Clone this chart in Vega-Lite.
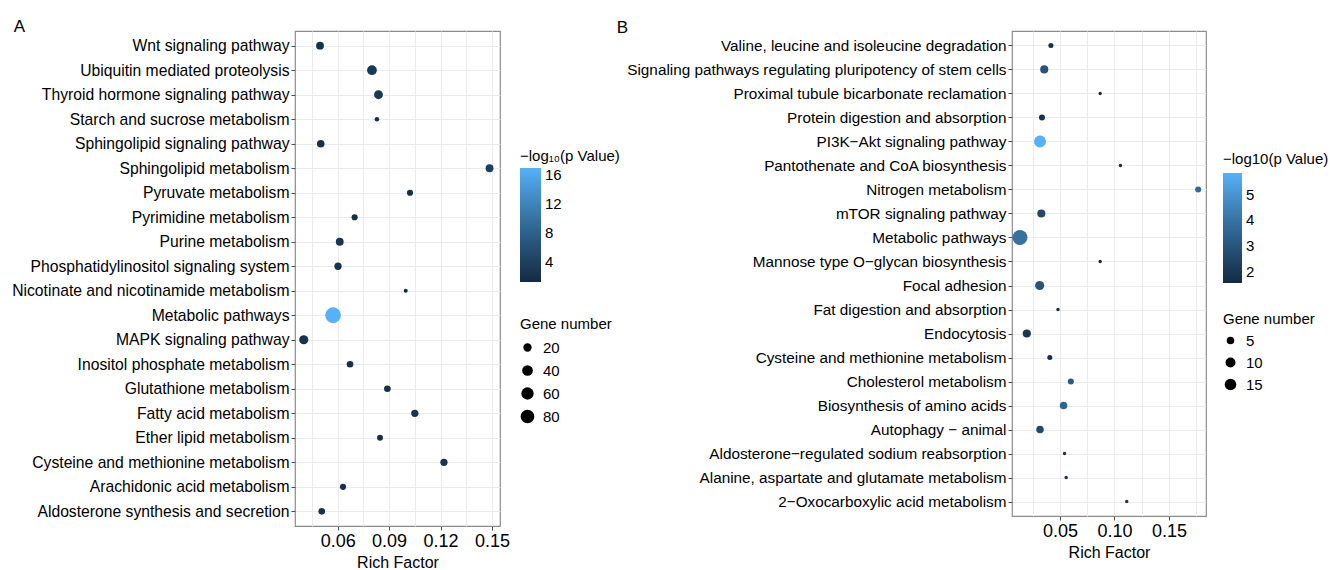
{
  "$schema": "https://vega.github.io/schema/vega-lite/v6.json",
  "background": "white",
  "padding": {"left": 11, "top": 16, "right": 0, "bottom": 0},
  "bounds": "flush",
  "spacing": 512,
  "config": {
    "font": "Liberation Sans",
    "view": {"stroke": "#8c8c8c", "strokeWidth": 1.2},
    "axis": {"labelColor": "#000", "titleColor": "#000", "tickColor": "#4d4d4d", "tickSize": 4, "domain": false, "gridColor": "#EBEBEB", "gridWidth": 1, "labelFont": "Liberation Sans", "titleFont": "Liberation Sans", "titleFontWeight": "normal", "labelLimit": 0},
    "legend": {"titleFont": "Liberation Sans", "labelFont": "Liberation Sans", "titleFontWeight": "normal", "titleColor": "#000", "labelColor": "#000", "titleLimit": 0}
  },
  "datasets": {
    "a": [
      {"pathway": "Wnt signaling pathway", "rich": 0.0497, "logp": 2.0, "genes": 17},
      {"pathway": "Ubiquitin mediated proteolysis", "rich": 0.0800, "logp": 3.0, "genes": 31},
      {"pathway": "Thyroid hormone signaling pathway", "rich": 0.0838, "logp": 3.2, "genes": 24},
      {"pathway": "Starch and sucrose metabolism", "rich": 0.0829, "logp": 1.8, "genes": 4},
      {"pathway": "Sphingolipid signaling pathway", "rich": 0.0501, "logp": 2.2, "genes": 16},
      {"pathway": "Sphingolipid metabolism", "rich": 0.1486, "logp": 3.8, "genes": 17},
      {"pathway": "Pyruvate metabolism", "rich": 0.1022, "logp": 1.8, "genes": 9},
      {"pathway": "Pyrimidine metabolism", "rich": 0.0699, "logp": 1.8, "genes": 9},
      {"pathway": "Purine metabolism", "rich": 0.0612, "logp": 2.5, "genes": 17},
      {"pathway": "Phosphatidylinositol signaling system", "rich": 0.0602, "logp": 2.3, "genes": 14},
      {"pathway": "Nicotinate and nicotinamide metabolism", "rich": 0.0997, "logp": 1.2, "genes": 3},
      {"pathway": "Metabolic pathways", "rich": 0.0573, "logp": 17.0, "genes": 120},
      {"pathway": "MAPK signaling pathway", "rich": 0.0402, "logp": 2.3, "genes": 26},
      {"pathway": "Inositol phosphate metabolism", "rich": 0.0672, "logp": 1.9, "genes": 11},
      {"pathway": "Glutathione metabolism", "rich": 0.0890, "logp": 2.0, "genes": 11},
      {"pathway": "Fatty acid metabolism", "rich": 0.1050, "logp": 2.4, "genes": 14},
      {"pathway": "Ether lipid metabolism", "rich": 0.0847, "logp": 1.8, "genes": 8},
      {"pathway": "Cysteine and methionine metabolism", "rich": 0.1220, "logp": 2.5, "genes": 14},
      {"pathway": "Arachidonic acid metabolism", "rich": 0.0631, "logp": 1.9, "genes": 9},
      {"pathway": "Aldosterone synthesis and secretion", "rich": 0.0507, "logp": 2.0, "genes": 11}
    ],
    "b": [
      {"pathway": "Valine, leucine and isoleucine degradation", "rich": 0.0417, "logp": 1.8, "genes": 2},
      {"pathway": "Signaling pathways regulating pluripotency of stem cells", "rich": 0.0356, "logp": 3.0, "genes": 6},
      {"pathway": "Proximal tubule bicarbonate reclamation", "rich": 0.0869, "logp": 1.7, "genes": 1},
      {"pathway": "Protein digestion and absorption", "rich": 0.0335, "logp": 1.85, "genes": 3},
      {"pathway": "PI3K−Akt signaling pathway", "rich": 0.0317, "logp": 5.83, "genes": 16},
      {"pathway": "Pantothenate and CoA biosynthesis", "rich": 0.1055, "logp": 1.7, "genes": 1},
      {"pathway": "Nitrogen metabolism", "rich": 0.1768, "logp": 3.7, "genes": 3},
      {"pathway": "mTOR signaling pathway", "rich": 0.0329, "logp": 2.65, "genes": 6},
      {"pathway": "Metabolic pathways", "rich": 0.0133, "logp": 3.92, "genes": 30},
      {"pathway": "Mannose type O−glycan biosynthesis", "rich": 0.0869, "logp": 1.59, "genes": 1},
      {"pathway": "Focal adhesion", "rich": 0.0314, "logp": 3.0, "genes": 8},
      {"pathway": "Fat digestion and absorption", "rich": 0.0482, "logp": 1.8, "genes": 1},
      {"pathway": "Endocytosis", "rich": 0.0196, "logp": 2.0, "genes": 6},
      {"pathway": "Cysteine and methionine metabolism", "rich": 0.0407, "logp": 1.8, "genes": 2},
      {"pathway": "Cholesterol metabolism", "rich": 0.0600, "logp": 3.2, "genes": 3},
      {"pathway": "Biosynthesis of amino acids", "rich": 0.0533, "logp": 3.5, "genes": 5},
      {"pathway": "Autophagy − animal", "rich": 0.0317, "logp": 2.65, "genes": 5},
      {"pathway": "Aldosterone−regulated sodium reabsorption", "rich": 0.0542, "logp": 1.9, "genes": 1},
      {"pathway": "Alanine, aspartate and glutamate metabolism", "rich": 0.0557, "logp": 1.9, "genes": 1},
      {"pathway": "2−Oxocarboxylic acid metabolism", "rich": 0.1113, "logp": 2.0, "genes": 1}
    ]
  },
  "hconcat": [
    {
      "width": 205,
      "height": 495,
      "title": {"text": "A", "anchor": "start", "frame": "bounds", "fontSize": 17, "fontWeight": "normal", "baseline": "alphabetic", "offset": -17.5, "dx": 2},
      "data": {"name": "a"},
      "mark": {"type": "circle", "opacity": 1},
      "encoding": {
        "y": {"field": "pathway", "type": "nominal", "sort": null, "scale": {"type": "point", "padding": 0.6},
          "axis": {"title": null, "grid": true, "labelFontSize": 15.7, "labelPadding": 2}},
        "x": {"field": "rich", "type": "quantitative", "scale": {"domain": [0.0351, 0.1547], "nice": false, "zero": false},
          "axis": {"title": "Rich Factor", "titleFontSize": 16, "labelFontSize": 18, "labelPadding": 2, "titlePadding": 4,
            "values": [0.045, 0.06, 0.075, 0.09, 0.105, 0.12, 0.135, 0.15],
            "labelExpr": "indexof([0.06, 0.09, 0.12, 0.15], datum.value) >= 0 ? format(datum.value, '.2f') : ''",
            "tickOpacity": {"condition": {"test": "indexof([0.06, 0.09, 0.12, 0.15], datum.value) < 0", "value": 0}, "value": 1}}},
        "color": {"field": "logp", "type": "quantitative",
          "scale": {"domain": [1.2, 17], "range": ["#132B43", "#56B1F7"], "interpolate": "lab", "zero": false},
          "legend": {"orient": "none", "legendX": 225, "legendY": 118, "direction": "vertical", "title": "−log₁₀(p Value)", "values": [4, 8, 12, 16],
            "gradientLength": 114, "gradientThickness": 21, "gradientStrokeWidth": 0, "titleFontSize": 15, "labelFontSize": 15, "titlePadding": 4, "labelOffset": 4}},
        "size": {"field": "genes", "type": "quantitative",
          "scale": {"type": "pow", "exponent": 0.7, "domain": [3, 120], "range": [16, 250]},
          "legend": {"orient": "none", "legendX": 225, "legendY": 286, "title": "Gene number", "values": [20, 40, 60, 80],
            "symbolFillColor": "#000", "symbolStrokeWidth": 0, "symbolOpacity": 1, "titleFontSize": 15, "labelFontSize": 15, "rowPadding": 7, "titlePadding": 8, "labelOffset": 8}}
      }
    },
    {
      "width": 194,
      "height": 485,
      "title": {"text": "B", "anchor": "start", "frame": "bounds", "fontSize": 17, "fontWeight": "normal", "baseline": "alphabetic", "offset": -19, "dx": -10},
      "data": {"name": "b"},
      "mark": {"type": "circle", "opacity": 1},
      "encoding": {
        "y": {"field": "pathway", "type": "nominal", "sort": null, "scale": {"type": "point", "padding": 0.6},
          "axis": {"title": null, "grid": true, "labelFontSize": 15.3, "labelPadding": 2}},
        "x": {"field": "rich", "type": "quantitative", "scale": {"domain": [0.006, 0.184], "nice": false, "zero": false},
          "axis": {"title": "Rich Factor", "titleFontSize": 16, "labelFontSize": 18, "labelPadding": 2, "titlePadding": 4,
            "values": [0.025, 0.05, 0.075, 0.1, 0.125, 0.15, 0.175],
            "labelExpr": "indexof([0.05, 0.1, 0.15], datum.value) >= 0 ? format(datum.value, '.2f') : ''",
            "tickOpacity": {"condition": {"test": "indexof([0.05, 0.1, 0.15], datum.value) < 0", "value": 0}, "value": 1}}},
        "color": {"field": "logp", "type": "quantitative",
          "scale": {"domain": [1.59, 5.83], "range": ["#132B43", "#56B1F7"], "interpolate": "lab", "zero": false},
          "legend": {"orient": "none", "legendX": 211, "legendY": 121, "direction": "vertical", "title": "−log10(p Value)", "values": [2, 3, 4, 5],
            "gradientLength": 110, "gradientThickness": 19, "gradientStrokeWidth": 0, "titleFontSize": 15, "labelFontSize": 15, "titlePadding": 6, "labelOffset": 4}},
        "size": {"field": "genes", "type": "quantitative",
          "scale": {"type": "pow", "exponent": 0.7, "domain": [1, 30], "range": [12, 225]},
          "legend": {"orient": "none", "legendX": 211, "legendY": 281, "title": "Gene number", "values": [5, 10, 15],
            "symbolFillColor": "#000", "symbolStrokeWidth": 0, "symbolOpacity": 1, "titleFontSize": 15, "labelFontSize": 15, "rowPadding": 6, "titlePadding": 6, "labelOffset": 8}}
      }
    }
  ],
  "resolve": {
    "scale": {"x": "independent", "y": "independent", "color": "independent", "size": "independent"},
    "legend": {"color": "independent", "size": "independent"}
  }
}
